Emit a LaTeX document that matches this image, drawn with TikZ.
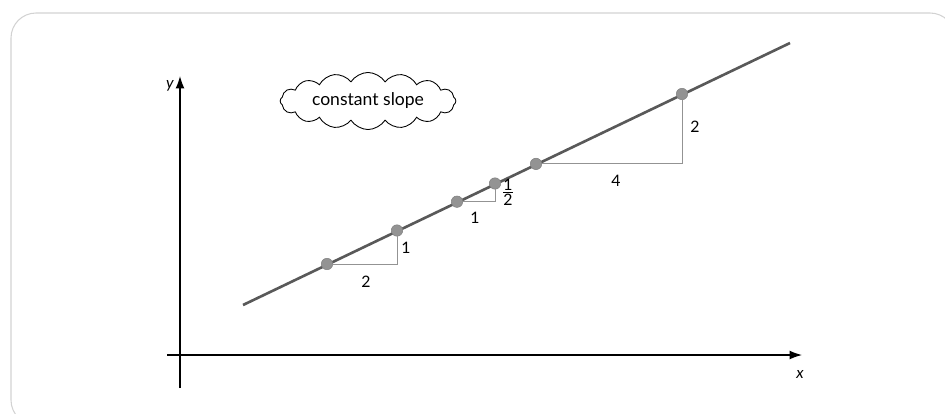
\documentclass[tikz,border=0pt]{standalone}
\usepackage{fontspec}
\setmainfont{Lato}
\usepackage{tikz}
\usetikzlibrary{arrows.meta, positioning, shapes.symbols}

\tikzset{
  axis/.style={line width=0.7pt, -{Latex[length=7pt,width=5pt]}},
  slopeline/.style={line width=1.5pt, black!65},
  dot/.style={circle, fill=gray!85, draw=gray, line width=0.3pt,
              minimum size=6.5pt, inner sep=0pt},
  rise/.style={line width=0.5pt, gray!85},
  lbl/.style={inner sep=1pt, font=\small}
}

\begin{document}
\begin{tikzpicture}[x=0.02cm, y=-0.02cm, font=\small]
\useasboundingbox (0,0) rectangle (945,413);
% ---------------- frame ----------------
\draw[gray!35, line width=0.6pt, rounded corners=0.5cm] (11,13) rectangle (955,425);
% ---------------- axes ----------------
\coordinate (xl) at (167,355);
\coordinate (xr) at (802,355);
\coordinate (yb) at (180,388);
\coordinate (yt) at (180,76);
\draw[axis] (xl) -- (xr);
\draw[axis] (yb) -- (yt);
\node[lbl] (xlab) at (800,374) {\textit{x}};
\node[lbl] (ylab) at (170,86) {\textit{y}};
% ---------------- line and points ----------------
\coordinate (lstart) at (243,305);
\coordinate (lend) at (790,43);
\draw[slopeline] (lstart) -- (lend);
\node[dot] (p1) at (327,264) {};
\node[dot] (p2) at (397,230.5) {};
\node[dot] (p3) at (457,201.7) {};
\node[dot] (p4) at (495,183.5) {};
\node[dot] (p5) at (536,163.9) {};
\node[dot] (p6) at (682,94) {};
% ---------------- run / rise triangles ----------------
\coordinate (c1) at (397,264);
\coordinate (c2) at (495,201.7);
\coordinate (c3) at (682,163.9);
\draw[rise] (p1) -- (c1) -- (p2);
\draw[rise] (p3) -- (c2) -- (p4);
\draw[rise] (p5) -- (c3) -- (p6);
\node[lbl] (run1) at (366,282) {2};
\node[lbl] (up1) at (406,248) {1};
\node[lbl] (run2) at (475,218) {1};
\node[lbl] (up2) at (508,192) {$\frac{\mbox{\small 1}}{\mbox{\small 2}}$};
\node[lbl] (run3) at (616,181) {4};
\node[lbl] (up3) at (695,127) {2};
% ---------------- cloud ----------------
\node[cloud, draw, cloud puffs=16, cloud puff arc=115, cloud ignores aspect,
      minimum width=3.4cm, minimum height=1.0cm, line width=0.5pt,
      font=\normalsize]
      (note) at (368,101) {constant slope};
\end{tikzpicture}
\end{document}
